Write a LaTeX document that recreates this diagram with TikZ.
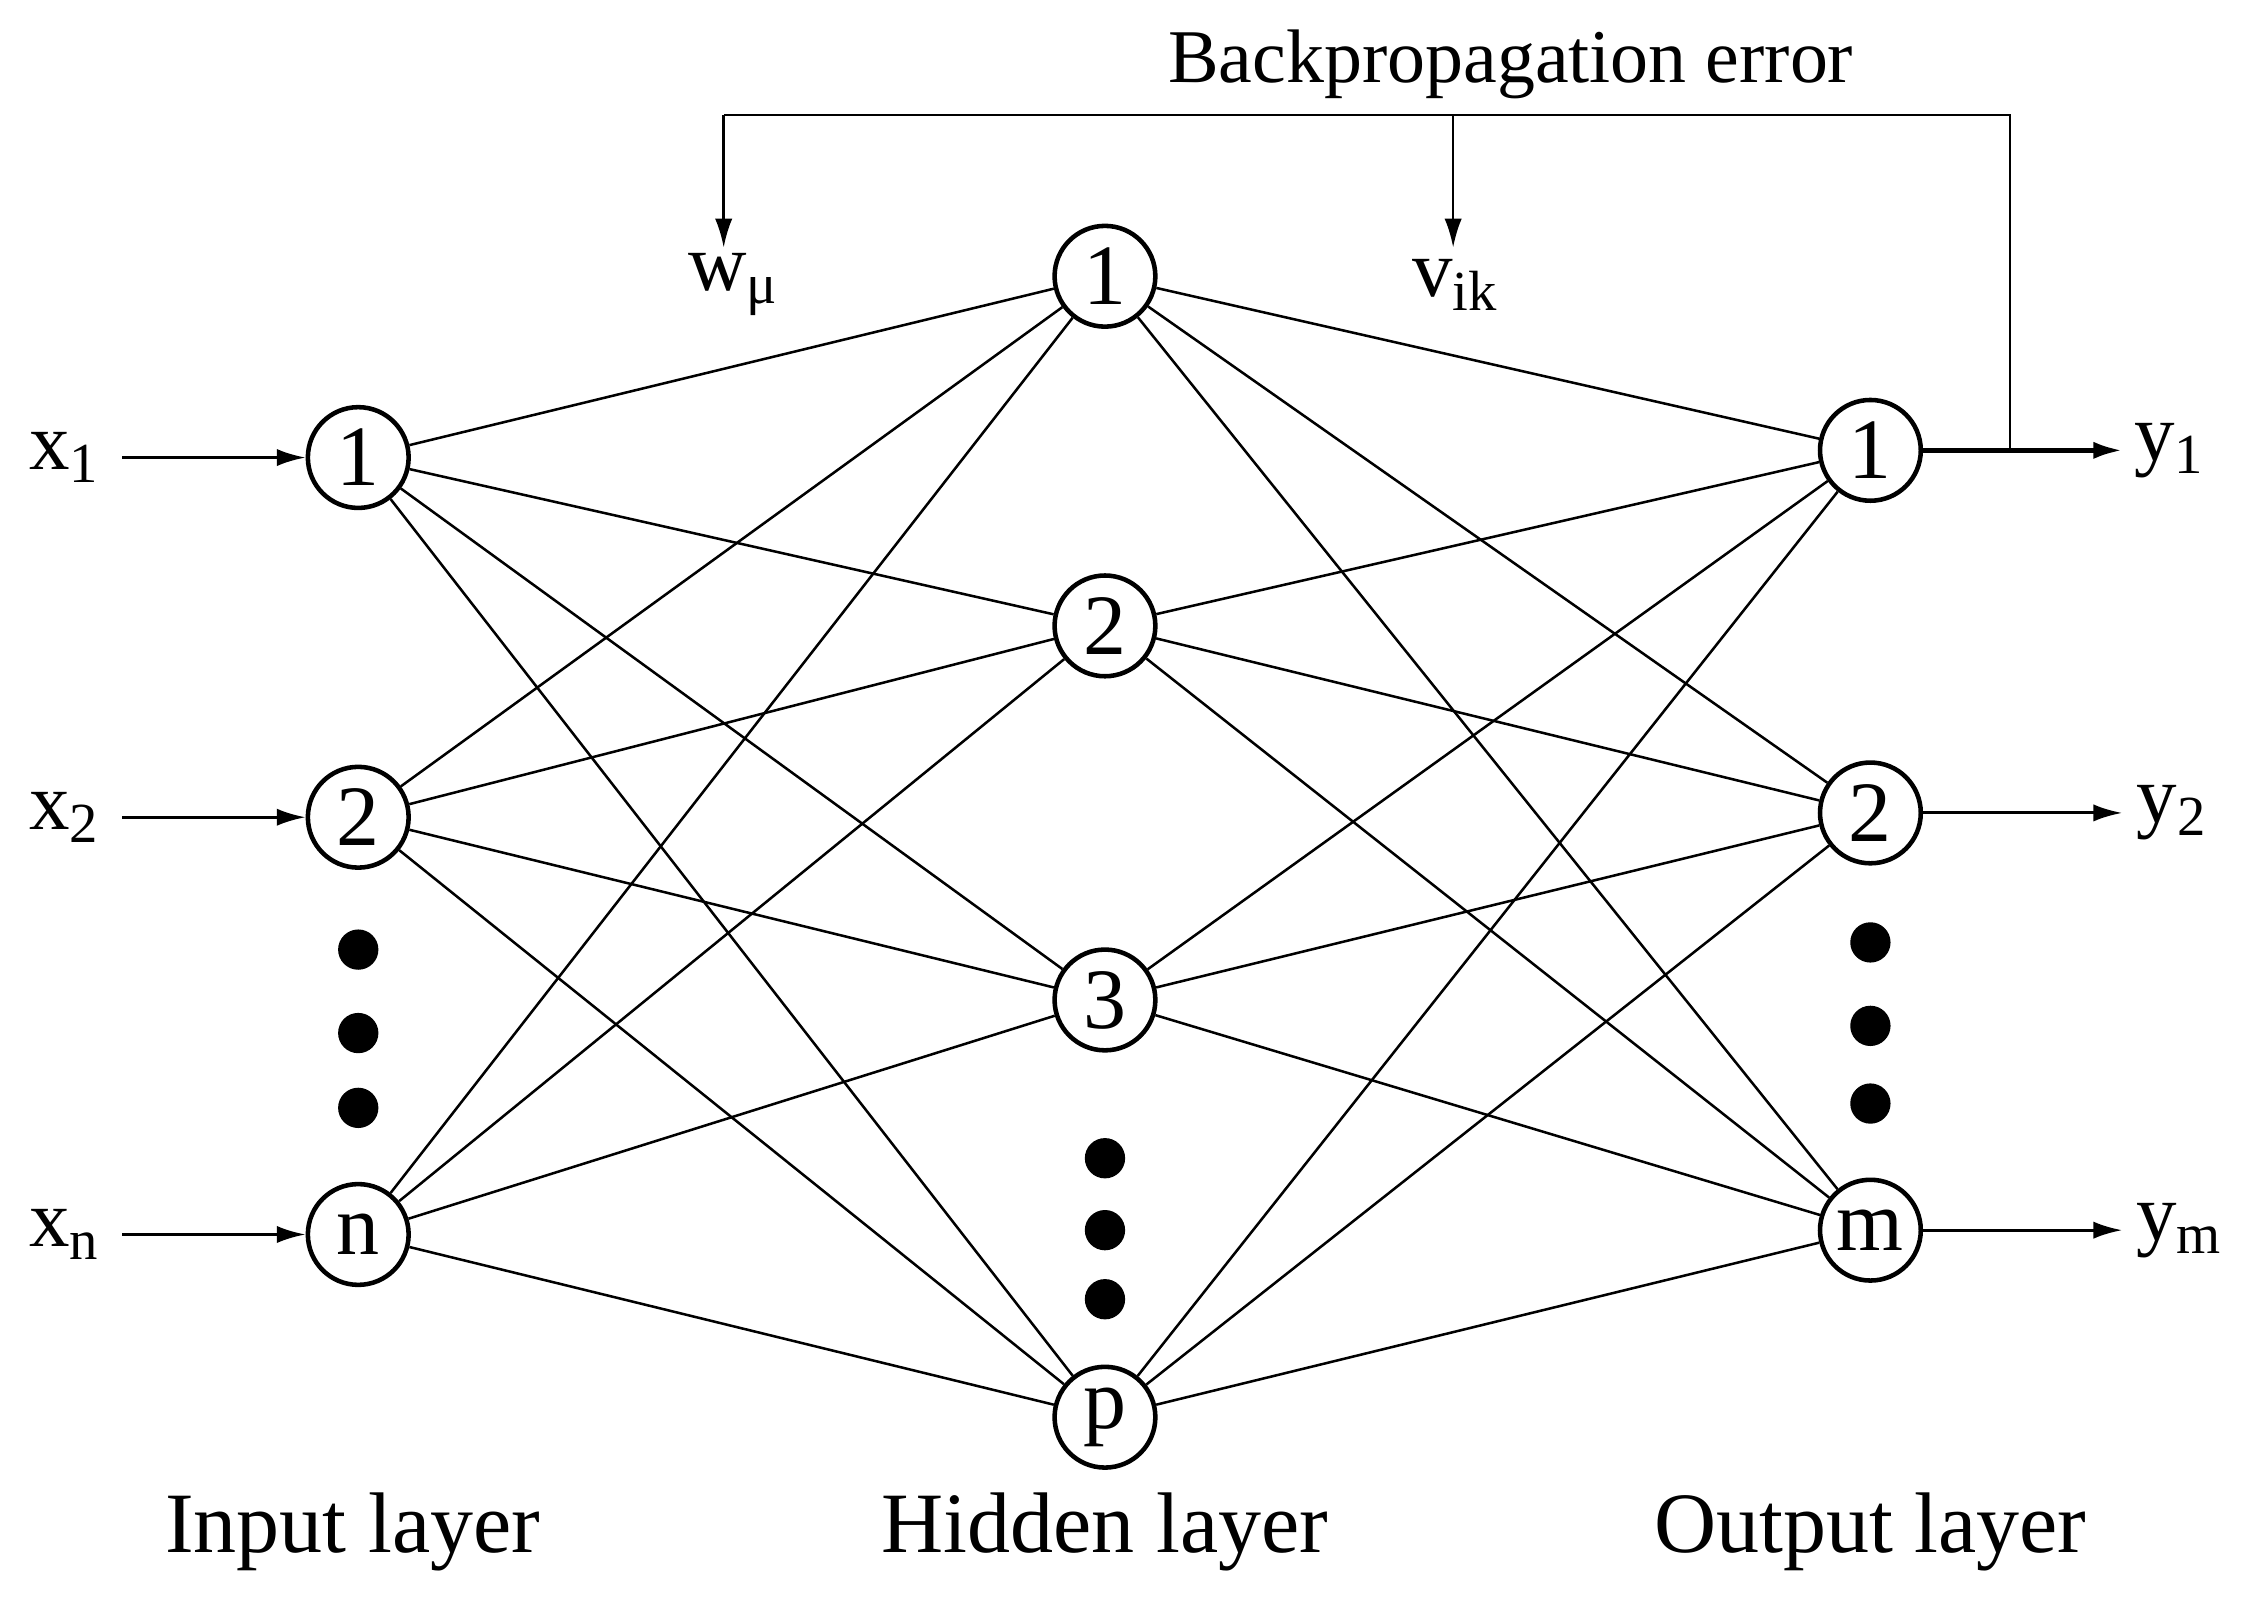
\documentclass[tikz,border=0pt]{standalone}
\usepackage{fontspec}
\setmainfont{Liberation Serif}
\usetikzlibrary{arrows.meta}
\begin{document}
\begin{tikzpicture}[x=0.01cm,y=-0.01cm,
  neuron/.style={circle,draw,line width=0.9pt,minimum size=0.70cm,inner sep=0pt,font=\fontsize{17}{17}\selectfont},
  lbl/.style={font=\fontsize{16}{16}\selectfont,inner sep=0pt},
  ttl/.style={font=\fontsize{17}{17}\selectfont,inner sep=0pt},
  conn/.style={line width=0.5pt},
  arr/.style={line width=0.6pt,-{Latex[length=0.2cm,width=0.12cm]}},
  dotn/.style={circle,fill=black,minimum size=0.28cm,inner sep=0pt}]
\useasboundingbox (0,0) rectangle (1568,1114);
\node[neuron] (i1) at (249,318) {1};
\node[neuron] (i2) at (249,568) {2};
\node[neuron] (in) at (249,858) {n};
\node[neuron] (h1) at (768,192) {1};
\node[neuron] (h2) at (768,435) {2};
\node[neuron] (h3) at (768,695) {3};
\node[neuron] (hp) at (768,985) {p};
\node[neuron] (o1) at (1300,313) {1};
\node[neuron] (o2) at (1300,565) {2};
\node[neuron] (om) at (1300,855) {m};
\foreach \y [count=\k] in {660,718,770}{\node[dotn] (di\k) at (249,\y) {};}
\foreach \y [count=\k] in {805,855,903}{\node[dotn] (dh\k) at (768,\y) {};}
\foreach \y [count=\k] in {655,713,767}{\node[dotn] (do\k) at (1300,\y) {};}
\foreach \a in {i1,i2,in}{\foreach \b in {h1,h2,h3,hp}{\draw[conn] (\a) -- (\b);}}
\foreach \a in {h1,h2,h3,hp}{\foreach \b in {o1,o2,om}{\draw[conn] (\a) -- (\b);}}
\node[lbl] (x1) at (45,318) {x\textsubscript{1}};
\node[lbl] (x2) at (45,568) {x\textsubscript{2}};
\node[lbl] (xn) at (45,858) {x\textsubscript{n}};
\node[lbl] (y1) at (1508,313) {y\textsubscript{1}};
\node[lbl] (y2) at (1510,565) {y\textsubscript{2}};
\node[lbl] (ym) at (1515,855) {y\textsubscript{m}};
\coordinate (x1s) at (85,318);
\coordinate (x2s) at (85,568);
\coordinate (xns) at (85,858);
\coordinate (y1e) at (1475,313);
\coordinate (y2e) at (1475,565);
\coordinate (yme) at (1475,855);
\draw[arr] (x1s) -- (i1);
\draw[arr] (x2s) -- (i2);
\draw[arr] (xns) -- (in);
\draw[arr,line width=0.9pt] (o1) -- (y1e);
\draw[arr] (o2) -- (y2e);
\draw[arr] (om) -- (yme);
\node[lbl] (w) at (510,198) {w\textsubscript{μ}};
\node[lbl] (v) at (1012,198) {v\textsubscript{ik}};
\node[ttl,font=\fontsize{15}{15}\selectfont] (bp) at (1050,45) {Backpropagation error};
\coordinate (fb) at (1397,313);
\coordinate (tr) at (1397,80);
\coordinate (tl) at (503,80);
\coordinate (tm) at (1010,80);
\coordinate (tlb) at (503,172);
\coordinate (tmb) at (1010,172);
\draw[line width=0.5pt] (fb) -- (tr) -- (tl);
\draw[arr,line width=0.5pt] (tl) -- (tlb);
\draw[arr,line width=0.5pt] (tm) -- (tmb);
\node[ttl] (L1) at (245,1065) {Input layer};
\node[ttl] (L2) at (768,1065) {Hidden layer};
\node[ttl] (L3) at (1300,1065) {Output layer};
\end{tikzpicture}
\end{document}
